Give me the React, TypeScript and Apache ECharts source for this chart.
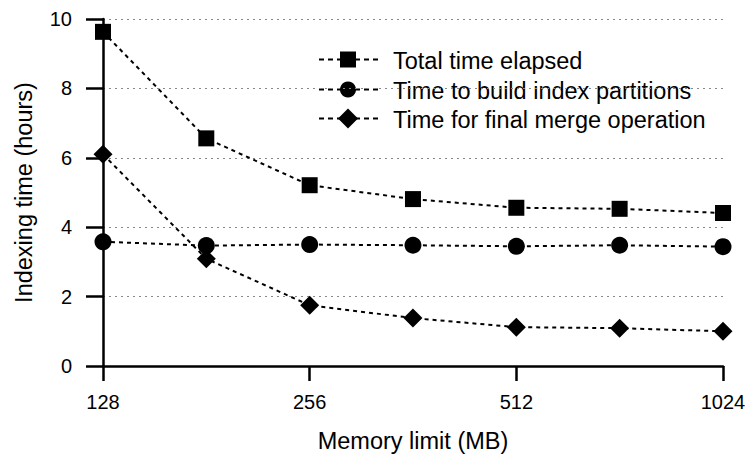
import React, { useEffect, useRef } from "react";
import * as echarts from "echarts";

const memory = [128, 181, 256, 362, 512, 724, 1024];
const xTicks = [128, 256, 512, 1024];
const totalTime = [9.63, 6.56, 5.21, 4.81, 4.56, 4.53, 4.41];
const buildTime = [3.58, 3.47, 3.5, 3.48, 3.45, 3.48, 3.44];
const mergeTime = [6.1, 3.09, 1.75, 1.38, 1.12, 1.09, 1.0];
const seriesNames = ["Total time elapsed", "Time to build index partitions", "Time for final merge operation"];

const FONT = "Liberation Sans";

export default function App() {
  const ref = useRef<HTMLDivElement>(null);
  useEffect(() => {
    const chart = echarts.init(ref.current!, null, { renderer: "svg" });
    const mk = (name: string, vals: number[], symbol: string, size: number) => ({
      name,
      type: "line",
      data: memory.map((m, i) => [m, vals[i]]),
      symbol,
      symbolSize: size,
      lineStyle: { color: "#000", width: 2, type: [4, 4] },
      itemStyle: { color: "#000" },
      z: 3,
    });

    // legend drawn as graphic elements
    const legendX0 = 319;
    const legendX1 = 379;
    const markerX = 348;
    const rowY = [59.5, 89.5, 118.5];
    const legendItems: any[] = [];
    rowY.forEach((y, i) => {
      legendItems.push({
        type: "line",
        shape: { x1: legendX0, y1: y, x2: legendX1, y2: y },
        style: { stroke: "#000", lineWidth: 2, lineDash: [5, 4] },
      });
      if (i === 0) {
        legendItems.push({ type: "rect", shape: { x: markerX - 8, y: y - 8, width: 16, height: 16 }, style: { fill: "#000" } });
      } else if (i === 1) {
        legendItems.push({ type: "circle", shape: { cx: markerX, cy: y, r: 8 }, style: { fill: "#000" } });
      } else {
        legendItems.push({
          type: "polygon",
          shape: { points: [[markerX, y - 10], [markerX + 10, y], [markerX, y + 10], [markerX - 10, y]] },
          style: { fill: "#000" },
        });
      }
      legendItems.push({
        type: "text",
        x: 393,
        y: y + 1,
        style: { text: seriesNames[i], font: `23.5px ${FONT}`, fill: "#000", verticalAlign: "middle" },
      });
    });

    chart.setOption({
      animation: false,
      backgroundColor: "#fff",
      grid: { left: 103, right: 32, top: 19, bottom: 90, containLabel: false },
      graphic: legendItems,
      xAxis: {
        type: "log",
        logBase: 2,
        min: 128,
        max: 1024,
        name: "Memory limit (MB)",
        nameLocation: "middle",
        nameGap: 63,
        nameTextStyle: { fontFamily: FONT, fontSize: 23.5, color: "#000" },
        axisLine: { lineStyle: { color: "#000", width: 2.5 } },
        axisTick: { show: true, length: 15, lineStyle: { color: "#000", width: 2.5 } },
        axisLabel: {
          fontFamily: FONT,
          fontSize: 20,
          color: "#000",
          margin: 26,
          customValues: xTicks,
          formatter: (v: number) => String(Math.round(v)),
        },
        splitLine: { show: false },
      },
      yAxis: {
        type: "value",
        min: 0,
        max: 10,
        interval: 2,
        name: "Indexing time (hours)",
        nameLocation: "middle",
        nameGap: 67,
        nameTextStyle: { fontFamily: FONT, fontSize: 23.5, color: "#000" },
        axisLine: { show: true, lineStyle: { color: "#000", width: 2.5 } },
        axisTick: { show: true, length: 17, lineStyle: { color: "#000", width: 2.5 } },
        axisLabel: { fontFamily: FONT, fontSize: 20, color: "#000", margin: 31 },
        splitLine: { show: true, lineStyle: { color: "#888", width: 1, type: [2, 4] } },
      },
      series: [
        mk(seriesNames[0], totalTime, "rect", 16),
        mk(seriesNames[1], buildTime, "circle", 17),
        mk(seriesNames[2], mergeTime, "diamond", 19),
      ],
    });
    return () => chart.dispose();
  }, []);
  return <div ref={ref} style={{ width: 755, height: 458, position: "absolute", left: 0, top: 0 }} />;
}
